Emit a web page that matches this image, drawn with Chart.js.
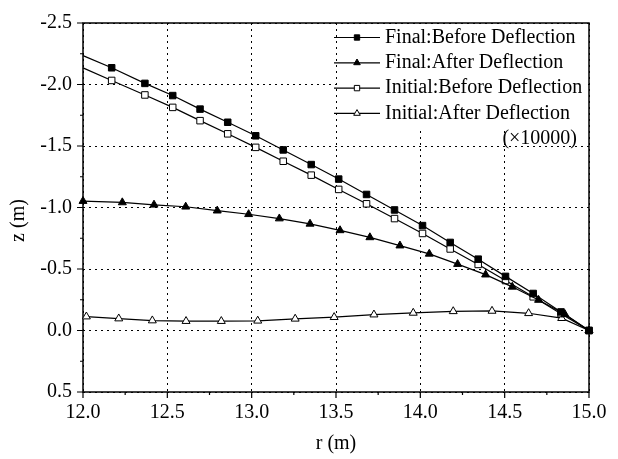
<!DOCTYPE html>
<html>
<head>
<meta charset="utf-8">
<script src="https://cdn.jsdelivr.net/npm/chart.js@4/dist/chart.umd.min.js"></script>
<style>
  body { margin: 0; background: #fff; }
  canvas { display: block; }
</style>
</head>
<body>
<canvas id="deflectionChart" width="618" height="459"></canvas>
<script>
// r (m) positions and z (m) values, read per curve
const rBefore = [12.0, 12.17, 12.367, 12.532, 12.694, 12.858, 13.024, 13.187, 13.353, 13.516,
  13.681, 13.847, 14.013, 14.177, 14.343, 14.505, 14.669, 14.834, 15.0];
const zFinalBefore = [-2.235, -2.136, -2.009, -1.910, -1.800, -1.693, -1.583, -1.468, -1.349, -1.231,
  -1.106, -0.980, -0.853, -0.716, -0.580, -0.440, -0.301, -0.151, 0.0];
const zInitialBefore = [-2.135, -2.033, -1.915, -1.814, -1.706, -1.599, -1.489, -1.376, -1.263, -1.147,
  -1.030, -0.910, -0.789, -0.663, -0.537, -0.406, -0.274, -0.137, 0.0];

const rFinalAfter = [12.0, 12.233, 12.421, 12.609, 12.796, 12.982, 13.164, 13.346, 13.524, 13.701,
  13.879, 14.053, 14.221, 14.387, 14.545, 14.701, 14.857, 15.0];
const zFinalAfter = [-1.052, -1.041, -1.022, -1.006, -0.974, -0.945, -0.910, -0.867, -0.814, -0.757,
  -0.690, -0.623, -0.540, -0.454, -0.355, -0.248, -0.132, 0.0];

const rInitialAfter = [12.02, 12.212, 12.411, 12.611, 12.820, 13.036, 13.258, 13.489, 13.725, 13.958,
  14.195, 14.425, 14.642, 14.838, 15.0];
const zInitialAfter = [-0.113, -0.097, -0.081, -0.076, -0.076, -0.079, -0.095, -0.108, -0.129, -0.143,
  -0.156, -0.159, -0.140, -0.100, 0.0];

const seriesLabels = [
  "Final:Before Deflection",
  "Final:After Deflection",
  "Initial:Before Deflection",
  "Initial:After Deflection",
];
const scaleNote = "(×10000)";

const xTicks = [12.0, 12.5, 13.0, 13.5, 14.0, 14.5, 15.0];
const yTicks = [-2.5, -2.0, -1.5, -1.0, -0.5, 0.0, 0.5];

const FONT = "'Liberation Serif', 'Times New Roman', serif";

function toPoints(xs, ys) {
  return xs.map((x, i) => ({ x, y: ys[i] }));
}

// the "before" curves start at the axis without a marker there
function hideFirst(size) {
  return (ctx) => (ctx.dataIndex === 0 ? 0 : size);
}

const markers = [
  { pointStyle: "rect", fill: "#000" },
  { pointStyle: "triangle", fill: "#000" },
  { pointStyle: "rect", fill: "#fff" },
  { pointStyle: "triangle", fill: "#fff" },
];

function makeDataset(i, xs, ys, radius) {
  return {
    label: seriesLabels[i],
    data: toPoints(xs, ys),
    borderColor: "#000",
    borderWidth: 1.2,
    tension: 0,
    pointStyle: markers[i].pointStyle,
    pointBackgroundColor: markers[i].fill,
    pointBorderColor: "#000",
    pointBorderWidth: 1,
    pointRadius: radius,
    pointHoverRadius: radius,
    clip: false,
  };
}

// box round the plot area plus outward major / minor ticks
const frameAndTicks = {
  id: "frameAndTicks",
  beforeDatasetsDraw(chart) {
    const { ctx, chartArea: a, scales } = chart;
    ctx.save();
    ctx.strokeStyle = "#000";
    ctx.lineWidth = 1.5;
    ctx.strokeRect(a.left, a.top, a.right - a.left, a.bottom - a.top);

    ctx.lineWidth = 1.2;
    ctx.beginPath();
    xTicks.forEach((v, i) => {
      const px = scales.x.getPixelForValue(v);
      ctx.moveTo(px, a.bottom);
      ctx.lineTo(px, a.bottom + 6);
      if (i < xTicks.length - 1) {
        const m = scales.x.getPixelForValue((v + xTicks[i + 1]) / 2);
        ctx.moveTo(m, a.bottom);
        ctx.lineTo(m, a.bottom + 3);
      }
    });
    yTicks.forEach((v, i) => {
      const py = scales.y.getPixelForValue(v);
      ctx.moveTo(a.left, py);
      ctx.lineTo(a.left - 6, py);
      if (i < yTicks.length - 1) {
        const m = scales.y.getPixelForValue((v + yTicks[i + 1]) / 2);
        ctx.moveTo(a.left, m);
        ctx.lineTo(a.left - 3, m);
      }
    });
    ctx.stroke();
    ctx.restore();
  },
};

// legend block in the top right corner of the plot
const cornerLegend = {
  id: "cornerLegend",
  afterDatasetsDraw(chart) {
    const { ctx, chartArea: a } = chart;
    const { drawPoint } = Chart.helpers;
    const boxLeft = a.right - 251;
    const lineX0 = boxLeft - 4;
    const lineX1 = lineX0 + 46;
    const textX = lineX1 + 5;

    ctx.save();
    ctx.fillStyle = "#fff";
    ctx.fillRect(boxLeft, a.top + 1, a.right - boxLeft - 1, 104);

    ctx.font = "20px " + FONT;
    ctx.textBaseline = "middle";
    seriesLabels.forEach((label, i) => {
      const y = a.top + 14.5 + i * 25.3;
      ctx.strokeStyle = "#000";
      ctx.lineWidth = 1.2;
      ctx.beginPath();
      ctx.moveTo(lineX0, y);
      ctx.lineTo(lineX1, y);
      ctx.stroke();

      ctx.fillStyle = markers[i].fill;
      ctx.lineWidth = 1;
      drawPoint(ctx, { pointStyle: markers[i].pointStyle, radius: 3.8, borderWidth: 1, rotation: 0 },
        (lineX0 + lineX1) / 2, y);

      ctx.fillStyle = "#000";
      ctx.textAlign = "left";
      ctx.fillText(label, textX, y);
    });
    ctx.textAlign = "right";
    ctx.fillText(scaleNote, a.right - 12, a.top + 14.5 + 4 * 25.3);
    ctx.restore();
  },
};

// rotated title for the z axis
const zTitle = {
  id: "zTitle",
  afterDraw(chart) {
    const { ctx, chartArea: a } = chart;
    ctx.save();
    ctx.translate(19, (a.top + a.bottom) / 2 + 13);
    ctx.rotate(-Math.PI / 2);
    ctx.font = "20px " + FONT;
    ctx.fillStyle = "#000";
    ctx.textAlign = "center";
    ctx.textBaseline = "middle";
    ctx.fillText("z (m)", 0, 0);
    ctx.restore();
  },
};

const gridStyle = {
  color: "#000",
  lineWidth: 1,
  drawTicks: false,
};

new Chart(document.getElementById("deflectionChart"), {
  type: "line",
  data: {
    datasets: [
      makeDataset(0, rBefore, zFinalBefore, hideFirst(4.6)),
      makeDataset(1, rFinalAfter, zFinalAfter, 4.6),
      makeDataset(2, rBefore, zInitialBefore, hideFirst(4.6)),
      makeDataset(3, rInitialAfter, zInitialAfter, 4.6),
    ],
  },
  options: {
    responsive: false,
    animation: false,
    layout: { padding: { top: 19, right: 29, left: 0, bottom: 0 } },
    plugins: {
      legend: { display: false },
      tooltip: { enabled: false },
    },
    scales: {
      x: {
        type: "linear",
        min: 12,
        max: 15,
        afterBuildTicks: (axis) => {
          axis.ticks = xTicks.map((value) => ({ value }));
        },
        afterFit: (axis) => {
          axis.height = 67;
        },
        grid: gridStyle,
        border: { display: false, dash: [2, 4] },
        ticks: {
          autoSkip: false,
          maxRotation: 0,
          padding: 9,
          color: "#000",
          font: { family: FONT, size: 20 },
          callback: (v) => Number(v).toFixed(1),
        },
        title: {
          display: true,
          text: "r (m)",
          color: "#000",
          font: { family: FONT, size: 20 },
          padding: { top: 0, bottom: 3 },
        },
      },
      y: {
        type: "linear",
        min: -2.5,
        max: 0.5,
        reverse: true,
        afterBuildTicks: (axis) => {
          axis.ticks = yTicks.map((value) => ({ value }));
        },
        afterFit: (axis) => {
          axis.width = 83;
        },
        grid: gridStyle,
        border: { display: false, dash: [2, 4] },
        ticks: {
          autoSkip: false,
          padding: 11,
          color: "#000",
          font: { family: FONT, size: 20 },
          callback: (v) => Number(v).toFixed(1),
        },
      },
    },
  },
  plugins: [frameAndTicks, cornerLegend, zTitle],
});
</script>
</body>
</html>
